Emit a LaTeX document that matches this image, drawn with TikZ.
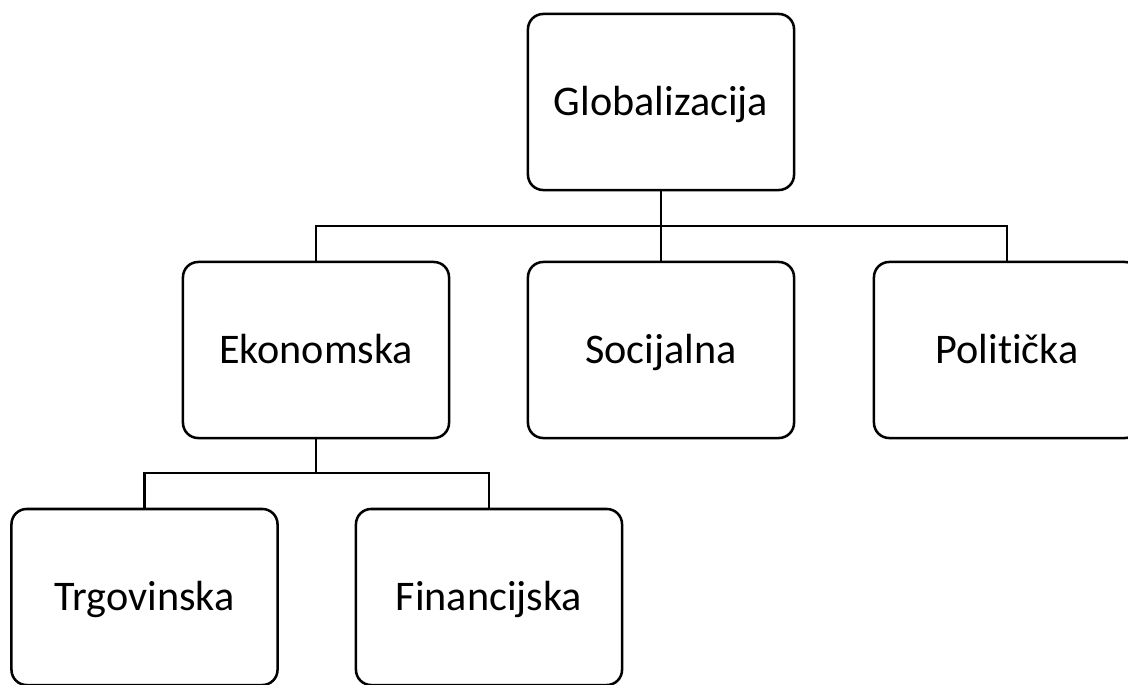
\documentclass[tikz,border=0pt]{standalone}
\usepackage{fontspec}
\setmainfont[Ligatures=NoCommon]{Carlito}
\begin{document}
\begin{tikzpicture}[x=0.025cm,y=-0.025cm,
  box/.style={draw, line width=1.8pt, rounded corners=0.38cm, minimum width=6.65cm, minimum height=4.4cm, inner sep=0pt, text height=18.8pt, text depth=0pt, font=\fontsize{30pt}{34pt}\selectfont},
  conn/.style={line width=1.8pt}]
\useasboundingbox (0,0) rectangle (1128,684);
\node[box] (G) at (661,102) {Globalizacija};
\node[box] (E) at (316,350) {Ekonomska};
\node[box] (S) at (661,350) {Socijalna};
\node[box] (P) at (1007,350) {Politička};
\node[box] (T) at (144.5,597) {Trgovinska};
\node[box] (F) at (489,597) {Financijska};
\coordinate (b1) at (661,226);
\coordinate (b2) at (316,473);
\draw[conn] (G.south) -- (S.north);
\draw[conn] (E.north) |- (b1) -| (P.north);
\draw[conn] (E.south) -- (b2);
\draw[conn] (T.north) |- (b2) -| (F.north);
\end{tikzpicture}
\end{document}
